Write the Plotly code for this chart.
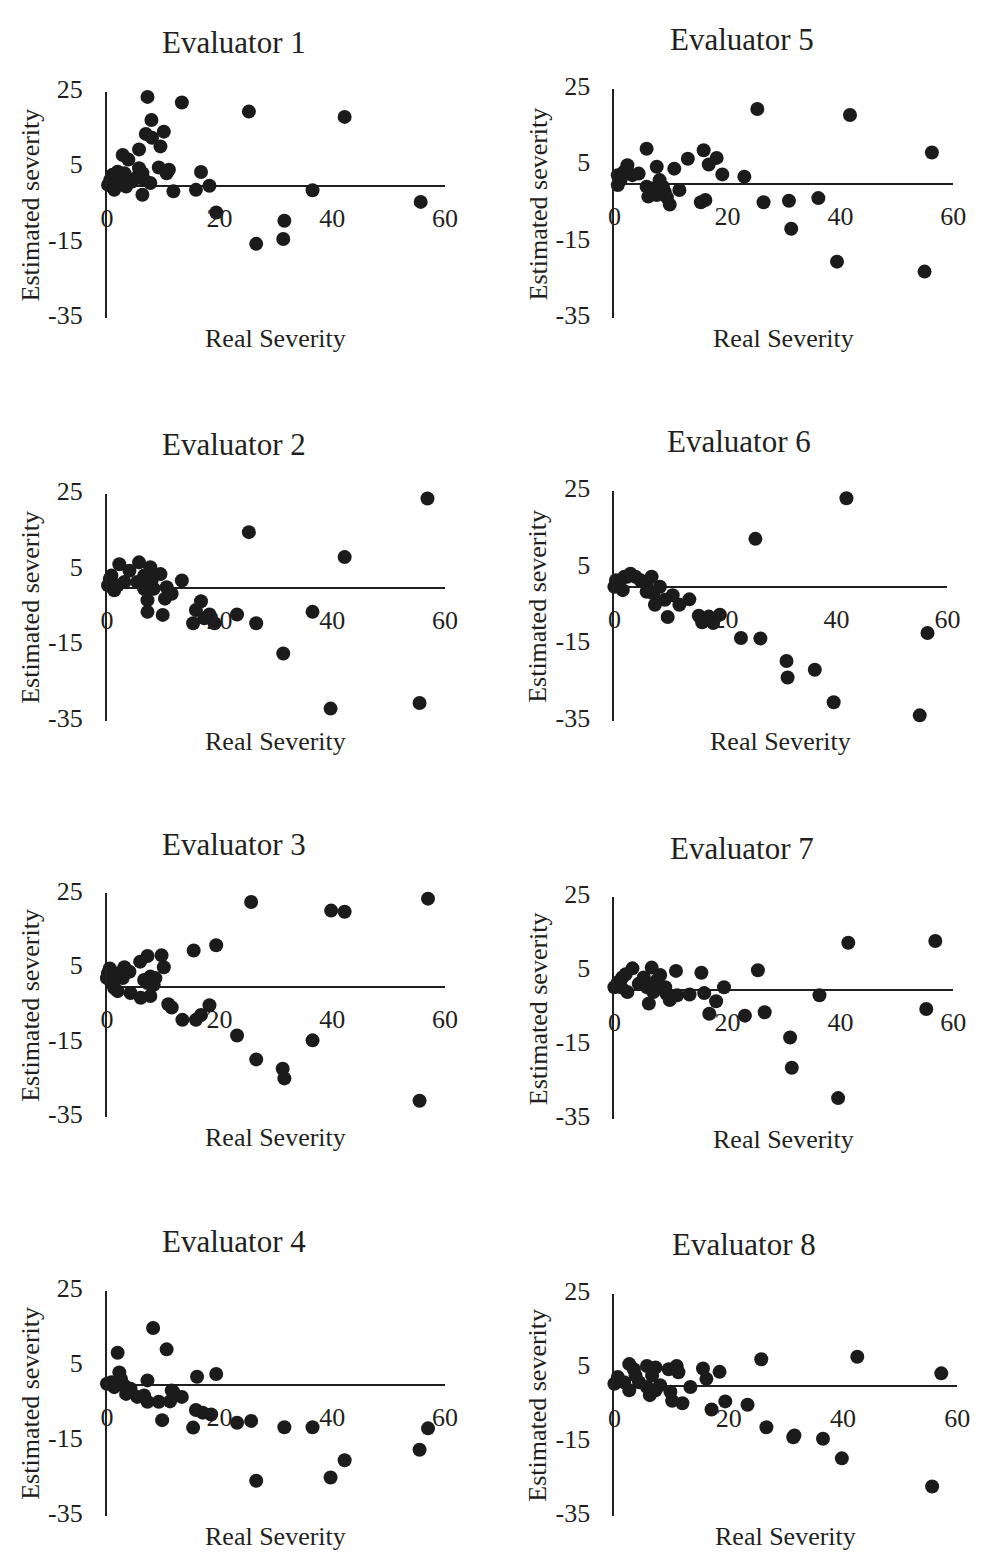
import plotly.graph_objects as go

W, H = 984, 1562

titles = ["Evaluator 1", "Evaluator 2", "Evaluator 3", "Evaluator 4",
          "Evaluator 5", "Evaluator 6", "Evaluator 7", "Evaluator 8"]
x_title = "Real Severity"
y_title = "Estimated severity"
x_ticks = [0, 20, 40, 60]
y_ticks = [-35, -15, 5, 25]

e1_real = [7.2, 13.3, 25.2, 42.2, 7.9, 10.1, 6.9, 8.0, 9.5, 5.7, 2.8, 3.8, 9.2, 11.0, 10.6, 16.7, 5.7, 6.3, 18.2, 15.8,
           11.8, 6.3, 7.7, 36.5, 55.7, 19.4, 31.5, 31.3, 26.5, 0.2, 0.6, 1.0, 1.9, 1.6, 2.8, 1.3, 3.4, 4.5, 5.1, 6.6, 3.1, 2.2]
e1_est = [23.6, 22.1, 19.7, 18.3, 17.5, 14.4, 13.8, 12.8, 10.5, 9.7, 8.2, 7.0, 4.9, 4.3, 3.4, 3.7, 4.7, 3.4, 0.1, -1.0,
          -1.4, -2.3, 0.8, -1.1, -4.2, -7.0, -9.2, -14.0, -15.3, 0.3, 1.7, 3.0, 3.8, 0.8, 1.7, -1.0, -0.1, 1.2, 2.1, 1.7, 3.4, 2.5]

e2_real = [56.9, 25.2, 42.2, 13.3, 5.7, 2.2, 7.7, 9.5, 4.0, 0.8, 0.2, 1.3, 3.1, 5.4, 6.6, 8.3, 7.2, 10.6, 11.5, 10.3,
           7.2, 9.9, 16.7, 15.8, 15.3, 18.2, 19.1, 23.1, 26.5, 36.5, 31.3, 39.7, 55.5, 17.3, 6.6, 8.0, 0.5, 1.9]
e2_est = [23.8, 14.9, 8.3, 2.1, 6.9, 6.4, 5.6, 3.8, 4.7, 3.4, 0.8, -0.5, 1.7, 1.7, -0.1, -0.1, -3.1, 0.3, -1.4, -2.7,
          -6.2, -7.0, -3.4, -5.7, -9.2, -6.9, -9.2, -6.9, -9.2, -6.2, -17.2, -31.8, -30.3, -7.9, 3.4, 2.5, 2.5, 0.8]

e3_real = [57.0, 25.6, 39.8, 42.2, 19.4, 15.4, 9.7, 7.2, 5.9, 10.1, 3.1, 0.5, 0.0, 7.7, 1.9, 4.2, 6.0, 7.7, 10.9, 11.5,
           13.4, 15.8, 16.7, 18.2, 23.1, 26.5, 31.2, 31.5, 36.5, 55.5, 8.6, 8.3, 7.2, 0.8, 1.3, 2.8, 4.0, 2.2, 6.6, 0.2]
e3_est = [23.6, 22.7, 20.4, 20.1, 11.1, 9.7, 8.4, 8.2, 6.7, 5.2, 5.2, 4.9, 2.3, 2.7, -1.2, -1.7, -3.0, -2.5, -4.7, -5.6,
          -8.9, -8.9, -7.6, -5.0, -13.1, -19.5, -22.0, -24.6, -14.4, -30.6, 2.3, 0.5, 1.0, 1.0, -0.4, 2.3, 4.0, 3.6, 1.8, 3.6]

e4_real = [8.2, 10.6, 1.9, 2.2, 7.2, 16.0, 19.4, 11.5, 13.3, 11.2, 9.2, 7.2, 5.4, 3.4, 1.3, 0.0, 9.8, 15.8, 17.0, 18.5,
           15.3, 23.1, 25.6, 31.5, 36.5, 57.0, 55.5, 42.2, 39.7, 26.5, 4.2, 2.5, 0.8, 3.1, 6.6, 11.8]
e4_est = [15.1, 9.4, 8.5, 3.2, 1.1, 2.1, 2.8, -1.6, -3.3, -4.5, -4.6, -4.6, -3.3, -2.5, -0.7, 0.2, -9.5, -6.8, -7.5, -8.0,
          -11.5, -10.2, -9.7, -11.4, -11.4, -11.7, -17.4, -20.2, -24.8, -25.7, -1.1, 1.5, 0.6, -0.3, -2.9, -2.0]

e5_real = [25.3, 41.7, 56.2, 5.7, 15.8, 13.0, 18.1, 16.7, 19.1, 23.0, 10.6, 7.5, 2.3, 4.3, 0.6, 0.6, 8.0, 5.7, 6.0, 7.5,
           9.8, 11.5, 9.3, 15.3, 16.1, 26.4, 30.9, 36.1, 31.3, 39.4, 54.9, 1.7, 3.2, 1.1, 6.9, 8.6, 8.9]
e5_est = [19.7, 18.1, 8.3, 9.3, 8.9, 6.7, 6.9, 5.2, 2.6, 2.0, 4.1, 4.6, 5.0, 2.8, 2.4, -0.2, 1.1, -0.6, -3.2, -2.8,
          -5.3, -1.5, -3.4, -4.7, -4.1, -4.7, -4.3, -3.6, -11.6, -20.2, -22.8, 3.3, 2.4, 1.1, -1.0, -0.6, -1.9]

e6_real = [41.8, 25.4, 56.4, 22.8, 26.3, 31.0, 31.2, 36.1, 39.5, 55.0, 9.6, 15.2, 15.8, 17.0, 17.8, 19.0, 13.5, 11.7,
           10.5, 7.3, 8.2, 6.7, 2.9, 1.8, 0.3, 0.0, 1.5, 4.7, 5.8, 7.0, 9.1, 2.3, 3.8, 0.9, 5.8]
e6_est = [23.1, 12.5, -12.1, -13.4, -13.5, -19.4, -23.7, -21.7, -30.2, -33.6, -7.9, -7.6, -9.3, -7.8, -9.5, -7.3, -3.3,
          -4.7, -2.2, -4.7, 0.0, 2.6, 3.4, 2.6, 1.7, 0.0, -0.9, 1.7, -1.3, -1.7, -3.4, 2.6, 2.6, 1.3, 0.9]

e7_real = [56.8, 41.4, 25.4, 15.4, 10.9, 6.6, 3.2, 8.1, 19.4, 15.9, 13.3, 11.1, 9.8, 6.1, 18.0, 16.8, 23.1, 26.6, 36.3,
           55.2, 31.1, 31.4, 39.6, 0.0, 0.6, 1.4, 2.3, 4.3, 5.8, 6.9, 9.0, 2.0, 5.2, 7.5, 9.2, 1.2]
e7_est = [13.2, 12.7, 5.3, 4.6, 5.1, 6.0, 5.8, 4.0, 0.7, -0.9, -1.3, -1.5, -2.8, -3.7, -3.1, -6.5, -7.0, -6.1, -1.5,
          -5.2, -12.9, -21.1, -29.3, 0.7, 2.0, 3.3, -0.6, 1.6, 0.7, -0.6, 0.7, 4.2, 3.3, 2.5, -1.1, 0.7]

e8_real = [42.5, 25.7, 57.2, 18.4, 15.5, 16.1, 10.9, 9.5, 11.2, 5.7, 7.2, 2.6, 3.4, 13.3, 9.8, 10.1, 11.9, 6.2, 19.4,
           23.3, 17.0, 26.6, 31.3, 31.5, 36.5, 39.8, 55.6, 0.0, 0.6, 2.6, 1.7, 4.3, 8.0, 5.7, 7.2, 3.7, 6.6]
e8_est = [8.0, 7.3, 3.5, 3.9, 4.8, 2.0, 5.5, 4.6, 3.8, 5.5, 5.1, 6.0, 4.6, -0.2, -1.5, -3.9, -4.6, -2.4, -4.1,
          -5.0, -6.3, -11.1, -13.8, -13.3, -14.2, -19.5, -27.1, 0.7, 2.5, -1.1, 1.1, 1.1, 0.3, -0.2, -1.1, 2.9, 2.9]

series = [(e1_real, e1_est), (e2_real, e2_est), (e3_real, e3_est), (e4_real, e4_est),
          (e5_real, e5_est), (e6_real, e6_est), (e7_real, e7_est), (e8_real, e8_est)]

# panel geometry in window pixels: (x_left, x_right, y_top, y_bottom)
geo = [
    (102, 447, 76, 307),
    (102, 447, 486, 717),
    (102, 447, 893, 1121),
    (102, 447, 1298, 1527),
    (620, 966, 73, 307),
    (620, 960, 483, 717),
    (620, 966, 897, 1123),
    (620, 970, 1301, 1527),
]


def fx(px):
    return px / W


def fy(py):
    return 1 - py / H


FONT = "Liberation Serif, Times New Roman, serif"
INK = "#231f20"
DOT = "#1b1b1b"

fig = go.Figure()
annotations = []
layout = dict(
    width=W, height=H,
    margin=dict(l=0, r=0, t=0, b=0),
    paper_bgcolor="white", plot_bgcolor="rgba(0,0,0,0)",
    showlegend=False,
    font=dict(family=FONT, color=INK, size=26),
)

for i, ((xs, ys), (xl, xr, yt, yb), title) in enumerate(zip(series, geo, titles), start=1):
    fig.add_trace(go.Scatter(
        x=xs, y=ys, mode="markers",
        marker=dict(size=14, color=DOT, line=dict(width=0)),
        xaxis=f"x{i}", yaxis=f"y{i}", cliponaxis=False, hoverinfo="skip",
    ))
    zero_px = yt + (25.0 / 60.0) * (yb - yt)
    layout[f"xaxis{i}"] = dict(
        domain=[fx(xl), fx(xr)], range=[0, 60], anchor="free",
        position=fy(zero_px),
        showline=False, showgrid=False, zeroline=False,
        tickmode="array", tickvals=x_ticks, ticktext=[str(v) for v in x_ticks],
        ticks="", ticklabelstandoff=14,
        tickfont=dict(family=FONT, size=26, color=INK),
    )
    layout[f"yaxis{i}"] = dict(
        domain=[fy(yb), fy(yt)], range=[-35, 25], anchor=f"x{i}",
        showline=True, linecolor=INK, linewidth=2,
        showgrid=False, zeroline=True, zerolinecolor=INK, zerolinewidth=2,
        tickmode="array", tickvals=y_ticks, ticktext=[str(v) for v in y_ticks],
        ticks="", ticklabelstandoff=17, ticklabelshift=-3,
        tickfont=dict(family=FONT, size=26, color=INK),
    )
    cx = (xl + xr) / 2
    annotations.append(dict(
        text=title, xref="paper", yref="paper", x=fx(cx - 43), y=fy(yt - 50),
        xanchor="center", yanchor="middle", showarrow=False,
        font=dict(family=FONT, size=31, color=INK),
    ))
    annotations.append(dict(
        text=x_title, xref="paper", yref="paper", x=fx(cx), y=fy(yb + 21),
        xanchor="center", yanchor="middle", showarrow=False,
        font=dict(family=FONT, size=26, color=INK),
    ))
    annotations.append(dict(
        text=y_title, xref="paper", yref="paper", x=fx(xl - 78), y=fy((yt + yb) / 2),
        xanchor="center", yanchor="middle", showarrow=False, textangle=-90,
        font=dict(family=FONT, size=26, color=INK),
    ))

layout["annotations"] = annotations
fig.update_layout(**layout)
fig.write_html("out.html")
